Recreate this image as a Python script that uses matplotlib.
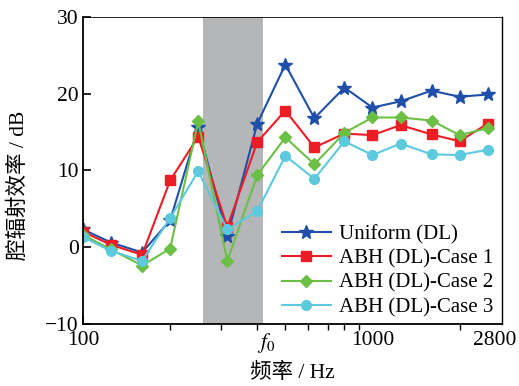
import matplotlib
matplotlib.use("Agg")
import matplotlib.pyplot as plt
import matplotlib.transforms as mtransforms

plt.rcParams['font.family'] = ['Liberation Serif', 'Noto Sans CJK SC']
plt.rcParams['mathtext.fontset'] = 'stix'

# third-octave band centre frequencies (Hz)
freq = [100, 125, 160, 200, 250, 315, 400, 500, 630, 800, 1000, 1250, 1600, 2000, 2500]

uniform = [2.3, 0.6, -0.7, 3.5, 15.6, 1.4, 16.1, 23.8, 16.8, 20.8, 18.2, 19.0, 20.4, 19.6, 19.9]
case1 = [2.0, 0.3, -1.0, 8.7, 14.4, 2.6, 13.7, 17.8, 13.0, 14.8, 14.6, 15.9, 14.7, 13.8, 16.1]
case2 = [1.6, -0.3, -2.4, -0.2, 16.4, -1.8, 9.4, 14.3, 10.8, 14.9, 16.9, 16.9, 16.5, 14.6, 15.5]
case3 = [1.3, -0.5, -1.8, 3.8, 9.9, 2.3, 4.7, 11.9, 8.9, 13.8, 12.0, 13.5, 12.1, 12.0, 12.7]

labels = ['Uniform (DL)', 'ABH (DL)-Case 1', 'ABH (DL)-Case 2', 'ABH (DL)-Case 3']
band = [260, 420]   # shaded band
f0 = 428

fig = plt.figure(figsize=(5.19, 3.86), dpi=100)
ax = fig.add_axes([0.160, 0.161, 0.807, 0.795])

ax.axvspan(band[0], band[1], color='#b5b6b8', lw=0, zorder=0)

ax.plot(freq, uniform, color='#1f4fa8', marker='*', ms=10, lw=1.5, label=labels[0])
ax.plot(freq, case1, color='#ee1c25', marker='s', ms=6.5, lw=1.5, label=labels[1])
ax.plot(freq, case2, color='#6cbf45', marker='D', ms=6, lw=1.5, label=labels[2])
ax.plot(freq, case3, color='#5cc9dd', marker='o', ms=7, lw=1.5, label=labels[3])

ax.set_xscale('log')
ax.set_xlim(100, 2800)
ax.set_ylim(-10, 30)
ax.set_yticks([-10, 0, 10, 20, 30])

ax.set_xticks([100, f0, 1000, 2800])
ax.set_xticklabels(['100', r'$f_0$', '1000', '2800'])
ax.set_xticks([200, 300, 400, 500, 600, 700, 800, 900, 2000], minor=True)
ax.xaxis.set_minor_formatter(matplotlib.ticker.NullFormatter())
for t in ax.xaxis.get_major_ticks()[1:]:
    t.tick1line.set_visible(False)

ax.tick_params(direction='in', labelsize=15.5, width=1.2)
ax.tick_params(which='major', length=6)
ax.tick_params(which='minor', length=4, width=1.0)
ax.tick_params(axis='x', pad=5)
ax.tick_params(axis='y', pad=3)

# pull the last x label back inside the figure
shift = mtransforms.ScaledTranslation(-7 / 100, 0, fig.dpi_scale_trans)
lbl = ax.get_xticklabels()[-1]
lbl.set_transform(lbl.get_transform() + shift)

for s in ax.spines.values():
    s.set_linewidth(1.3)
ax.spines['top'].set_linewidth(0.6)
ax.spines['right'].set_linewidth(1.0)

ax.set_xlabel('频率 / Hz', fontsize=15.5, labelpad=6)
ax.set_ylabel('腔辐射效率 / dB', fontsize=15.5)
ax.yaxis.set_label_coords(-0.13, 0.45)

ax.legend(loc='lower right', frameon=False, fontsize=15, handlelength=2.35,
          labelspacing=0.22, handletextpad=0.4, borderaxespad=0.0,
          bbox_to_anchor=(1.0, -0.005))

fig.savefig('out.png', dpi=100)
